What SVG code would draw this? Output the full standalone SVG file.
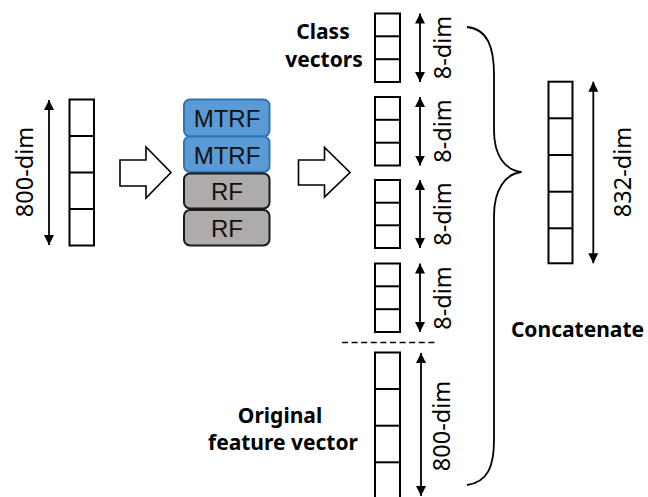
<svg xmlns="http://www.w3.org/2000/svg" width="648" height="497" viewBox="0 0 648 497">
<defs>
<marker id="ah" viewBox="0 0 10 10" refX="10" refY="5" markerWidth="10" markerHeight="11" markerUnits="userSpaceOnUse" orient="auto-start-reverse">
<path d="M0,0 L10,5 L0,10 z" fill="#000"/>
</marker>
<style>
.vec{fill:#fff;stroke:#000;stroke-width:2}
.div{stroke:#000;stroke-width:2}
.dim{stroke:#000;stroke-width:1.8;marker-start:url(#ah);marker-end:url(#ah)}
.dt{font-family:"Noto Sans","Liberation Sans",sans-serif;font-size:23.5px;fill:#000;text-anchor:middle;dominant-baseline:central}
.lbl{font-family:"Noto Sans","Noto Sans CJK SC",sans-serif;font-weight:bold;font-size:21px;fill:#000;text-anchor:middle}
.blk{fill:#fff;stroke:#000;stroke-width:1.6;stroke-linejoin:miter}
.mtrf{fill:#5B9BD5;stroke:#2E75B6;stroke-width:2}
.rf{fill:#AFABAB;stroke:#1a1a1a;stroke-width:2}
.bt{font-family:"Liberation Sans",Arial,sans-serif;font-size:24px;fill:#111;text-anchor:middle;dominant-baseline:central}
</style>
</defs>

<g id="input-vector">
<rect class="vec" x="69.5" y="99.5" width="24.5" height="146"/>
<line class="div" x1="69.5" y1="136" x2="94" y2="136"/>
<line class="div" x1="69.5" y1="172.5" x2="94" y2="172.5"/>
<line class="div" x1="69.5" y1="209" x2="94" y2="209"/>
<text class="dt" transform="translate(24,172) rotate(-90)">800-dim</text>
</g>

<g id="model-stack">
<rect class="mtrf" x="184" y="99.5" width="85.5" height="37" rx="6"/>
<text class="bt" x="227" y="118.5">MTRF</text>
<rect class="mtrf" x="184" y="136.5" width="85.5" height="35.5" rx="6"/>
<text class="bt" x="227" y="155">MTRF</text>
<rect class="rf" x="184" y="173.5" width="85.5" height="35" rx="6"/>
<text class="bt" x="227" y="191.5">RF</text>
<rect class="rf" x="184" y="210" width="85.5" height="35.5" rx="6"/>
<text class="bt" x="227" y="228">RF</text>
</g>

<g id="class-vector-1">
<rect class="vec" x="375" y="13.5" width="25" height="68.5"/>
<line class="div" x1="375" y1="36.3" x2="400" y2="36.3"/>
<line class="div" x1="375" y1="59.2" x2="400" y2="59.2"/>
<text class="dt" transform="translate(441.5,47.5) rotate(-90)">8-dim</text>
</g>
<g id="class-vector-2">
<rect class="vec" x="375" y="97" width="25" height="68.5"/>
<line class="div" x1="375" y1="119.8" x2="400" y2="119.8"/>
<line class="div" x1="375" y1="142.7" x2="400" y2="142.7"/>
<text class="dt" transform="translate(441.5,131) rotate(-90)">8-dim</text>
</g>
<g id="class-vector-3">
<rect class="vec" x="375" y="180" width="25" height="68"/>
<line class="div" x1="375" y1="202.7" x2="400" y2="202.7"/>
<line class="div" x1="375" y1="225.3" x2="400" y2="225.3"/>
<text class="dt" transform="translate(441.5,214) rotate(-90)">8-dim</text>
</g>
<g id="class-vector-4">
<rect class="vec" x="375" y="263.5" width="25" height="68.5"/>
<line class="div" x1="375" y1="286.3" x2="400" y2="286.3"/>
<line class="div" x1="375" y1="309.2" x2="400" y2="309.2"/>
<text class="dt" transform="translate(441.5,298) rotate(-90)">8-dim</text>
</g>

<g id="original-vector">
<rect class="vec" x="375" y="352.5" width="25" height="148"/>
<line class="div" x1="375" y1="389" x2="400" y2="389"/>
<line class="div" x1="375" y1="425.7" x2="400" y2="425.7"/>
<line class="div" x1="375" y1="462.3" x2="400" y2="462.3"/>
<text class="dt" transform="translate(441,426) rotate(-90)">800-dim</text>
</g>

<g id="output-vector">
<rect class="vec" x="548.5" y="81.7" width="24" height="181.6"/>
<line class="div" x1="548.5" y1="118.3" x2="572.5" y2="118.3"/>
<line class="div" x1="548.5" y1="155" x2="572.5" y2="155"/>
<line class="div" x1="548.5" y1="191.7" x2="572.5" y2="191.7"/>
<line class="div" x1="548.5" y1="228.3" x2="572.5" y2="228.3"/>
<text class="dt" transform="translate(622,172) rotate(-90)">832-dim</text>
</g>

<g id="labels">
<text class="lbl" x="323" y="38.5">Class</text>
<text class="lbl" x="324" y="66.5">vectors</text>
<text class="lbl" x="280" y="423">Original</text>
<text class="lbl" x="283" y="450">feature vector</text>
<text class="lbl" x="577.5" y="336.5">Concatenate</text>
</g>

<g id="connectors">
<polygon class="blk" points="120,160 146,160 146,147 171,172.5 146,198 146,186 120,186"/>
<polygon class="blk" points="298.5,160 324.5,160 324.5,147.5 350,172.5 324.5,197 324.5,185 298.5,185"/>
<line class="dim" x1="49" y1="100" x2="49" y2="245"/>
<line class="dim" x1="420" y1="13.5" x2="420" y2="82"/>
<line class="dim" x1="420" y1="97" x2="420" y2="165.5"/>
<line class="dim" x1="420" y1="180" x2="420" y2="248"/>
<line class="dim" x1="420" y1="263.5" x2="420" y2="332"/>
<line class="dim" x1="421" y1="353" x2="421" y2="496"/>
<line class="dim" x1="593.3" y1="81.7" x2="593.3" y2="263.3"/>
<line x1="342" y1="342.5" x2="435" y2="342.5" stroke="#000" stroke-width="1.6" stroke-dasharray="6 3.6"/>
<path d="M467,27 C488,29 494,48 494,75 L494,130 C494,156 505,170 521.5,172 C505,174 494,190 494,216 L494,440 C494,466 488,482 467,485" fill="none" stroke="#000" stroke-width="1.8"/>
</g>
</svg>
